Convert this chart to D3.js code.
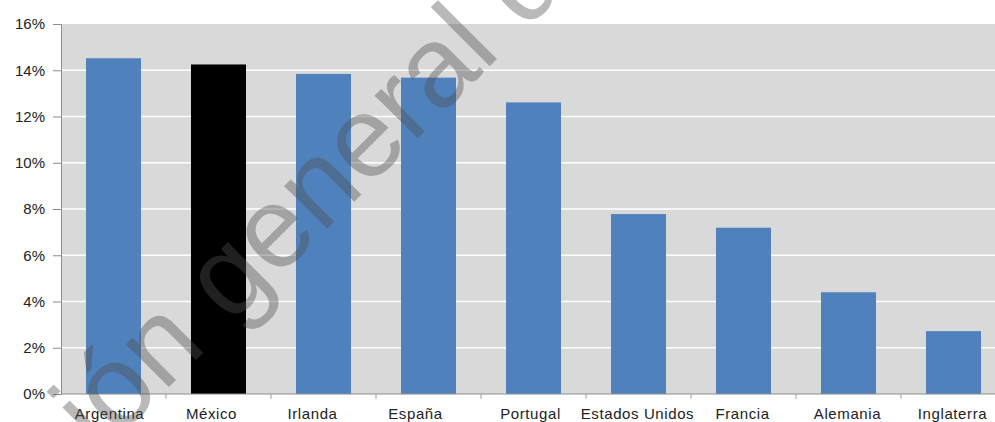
<!DOCTYPE html>
<html>
<head>
<meta charset="utf-8">
<script src="https://cdn.jsdelivr.net/npm/d3@7"></script>
<style>
  html, body { margin: 0; padding: 0; background: #ffffff; }
  svg { display: block; }
  text { font-family: "Liberation Sans", Arial, sans-serif; }
</style>
</head>
<body>
<svg id="chart" width="995" height="422"></svg>
<script>
// ---- data ----
const categories = ["Argentina", "México", "Irlanda", "España", "Portugal", "Estados Unidos", "Francia", "Alemania", "Inglaterra"];
const values = [14.52, 14.25, 13.84, 13.68, 12.61, 7.78, 7.19, 4.40, 2.72];
const highlight = ["México"];
const yTicks = [0, 2, 4, 6, 8, 10, 12, 14, 16];
const watermarkText = "ión general de";

// ---- layout ----
const W = 995, H = 422;
const plot = { left: 61, top: 24, bottom: 394, right: 1006 };
const svg = d3.select("#chart");

const x = d3.scaleBand()
  .domain(categories)
  .range([plot.left, plot.right])
  .paddingInner(0.476)
  .paddingOuter(0.238);

const y = d3.scaleLinear().domain([0, 16]).range([plot.bottom, plot.top]);

// plot background
svg.append("rect")
  .attr("x", plot.left).attr("y", plot.top)
  .attr("width", plot.right - plot.left)
  .attr("height", plot.bottom - plot.top)
  .attr("fill", "#d9d9d9");

// gridlines
svg.append("g")
  .selectAll("line")
  .data(yTicks.filter(t => t > 0 && t < 16))
  .join("line")
  .attr("x1", plot.left).attr("x2", plot.right)
  .attr("y1", d => y(d)).attr("y2", d => y(d))
  .attr("stroke", "#ffffff")
  .attr("stroke-width", 1.5);

// bars
svg.append("g")
  .selectAll("rect")
  .data(categories.map((c, i) => ({ c, v: values[i] })))
  .join("rect")
  .attr("x", d => x(d.c))
  .attr("width", x.bandwidth())
  .attr("y", d => y(d.v))
  .attr("height", d => y(0) - y(d.v))
  .attr("fill", d => highlight.includes(d.c) ? "#000000" : "#4f81bd");

// y axis
const yAxis = d3.axisLeft(y)
  .tickValues(yTicks)
  .tickSize(8)
  .tickPadding(8)
  .tickFormat(d => d + "%");
const yg = svg.append("g")
  .attr("transform", `translate(${plot.left},0)`)
  .call(yAxis);
yg.select(".domain").attr("stroke", "#8c8c8c");
yg.selectAll(".tick line").attr("stroke", "#8c8c8c");
yg.selectAll(".tick text")
  .attr("font-size", 15)
  .attr("fill", "#222222")
  .attr("font-family", "'Liberation Sans', Arial, sans-serif");

// x axis
const xAxis = d3.axisBottom(x).tickSize(0).tickPadding(14);
const xg = svg.append("g")
  .attr("transform", `translate(0,${plot.bottom})`)
  .call(xAxis);
xg.select(".domain").attr("stroke", "#8c8c8c")
  .attr("d", `M${plot.left},0H${plot.right}`);
const labelNudge = [-4, -7, -11, -13, -3, -1, -1, -1, -1];
xg.selectAll(".tick text")
  .attr("font-size", 15)
  .attr("fill", "#222222")
  .attr("letter-spacing", "0.6px")
  .attr("font-family", "'Liberation Sans', Arial, sans-serif")
  .attr("dx", (d, i) => labelNudge[i]);

// category separator ticks
const step = x.step();
svg.append("g")
  .selectAll("line")
  .data(categories.slice(1))
  .join("line")
  .attr("x1", d => x(d) - (step - x.bandwidth()) / 2)
  .attr("x2", d => x(d) - (step - x.bandwidth()) / 2)
  .attr("y1", plot.bottom).attr("y2", plot.bottom + 5)
  .attr("stroke", "#a0a0a0");

// watermark
svg.append("text")
  .attr("transform", "translate(100,456) rotate(-45)")
  .attr("font-size", 115)
  .attr("fill", "#505050")
  .attr("fill-opacity", 0.4)
  .attr("font-family", "'Liberation Sans', Arial, sans-serif")
  .text(watermarkText);
</script>
</body>
</html>
